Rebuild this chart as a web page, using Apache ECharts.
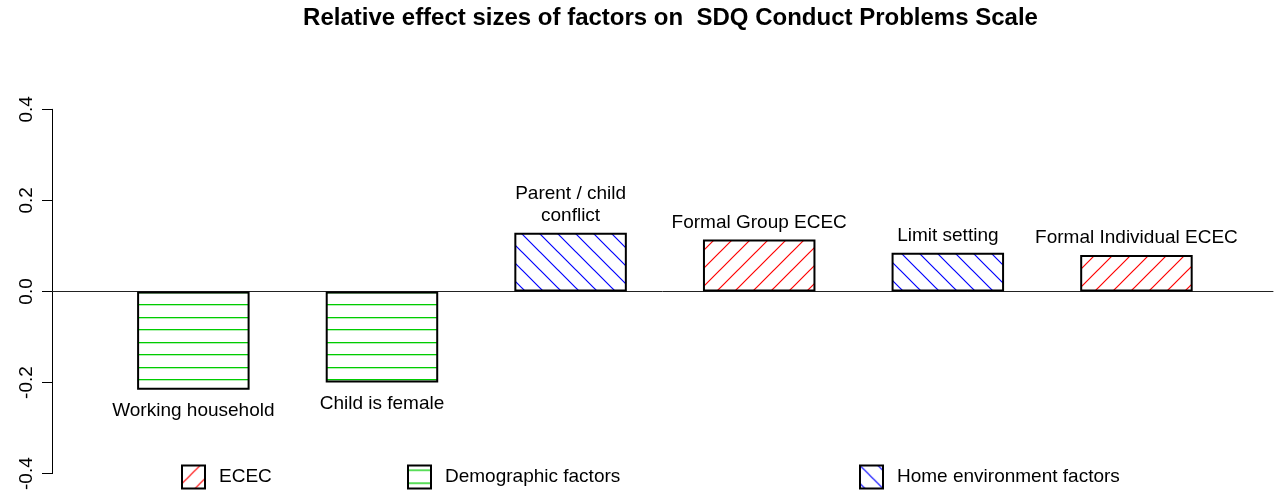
<!DOCTYPE html>
<html><head><meta charset="utf-8">
<script src="https://cdn.jsdelivr.net/npm/echarts@6/dist/echarts.min.js"></script>
<style>html,body{margin:0;padding:0;background:#fff}#c{width:1275px;height:493px}</style>
</head><body><div id="c"></div>
<script>
// ---- data ----
const categories = ['Working household', 'Child is female', 'Parent / child\nconflict', 'Formal Group ECEC', 'Limit setting', 'Formal Individual ECEC'];
const values = [-0.216, -0.200, 0.129, 0.114, 0.085, 0.080];
const groups = ['Demographic factors', 'Demographic factors', 'Home environment factors', 'ECEC', 'Home environment factors', 'ECEC'];
const groupNames = ['ECEC', 'Demographic factors', 'Home environment factors'];
const yTickLabels = ['-0.4', '-0.2', '0.0', '0.2', '0.4'];

// ---- styles ----
const FONT = '"Liberation Sans", Arial, Helvetica, sans-serif';
function hatch(kind, color) {
  const c = document.createElement('canvas');
  const ctx = c.getContext('2d');
  if (kind === 'h') {
    c.width = 4; c.height = 25;
    ctx.fillStyle = '#fff'; ctx.fillRect(0, 0, 4, 25);
    ctx.fillStyle = color;
    ctx.fillRect(0, 4, 4, 1.3);
    ctx.fillRect(0, 17, 4, 1.3);
  } else {
    const s = 18;
    c.width = s; c.height = s;
    ctx.fillStyle = '#fff'; ctx.fillRect(0, 0, s, s);
    ctx.strokeStyle = color; ctx.lineWidth = 1.2;
    ctx.beginPath();
    if (kind === '/') {
      ctx.moveTo(-2, s + 2); ctx.lineTo(s + 2, -2);
      ctx.moveTo(-2, 2); ctx.lineTo(2, -2);
      ctx.moveTo(s - 2, s + 2); ctx.lineTo(s + 2, s - 2);
    } else {
      ctx.moveTo(-2, -2); ctx.lineTo(s + 2, s + 2);
      ctx.moveTo(s - 2, -2); ctx.lineTo(s + 2, 2);
      ctx.moveTo(-2, s - 2); ctx.lineTo(2, s + 2);
    }
    ctx.stroke();
  }
  return { image: c, repeat: 'repeat' };
}
const groupFill = {
  'ECEC': hatch('/', '#ff0000'),
  'Demographic factors': hatch('h', '#00cc00'),
  'Home environment factors': hatch('\\', '#0000ff')
};

const series = groupNames.map(g => ({
  name: g,
  type: 'bar',
  barWidth: 112.5,
  barGap: '-100%',
  itemStyle: { color: groupFill[g], borderColor: '#000', borderWidth: 2 },
  label: {
    show: true,
    formatter: p => categories[p.data.idx],
    fontFamily: FONT, fontSize: 19, color: '#000', lineHeight: 22
  },
  data: categories.map((c, i) => i).filter(i => groups[i] === g).map(i => ({
    idx: i,
    value: [i + 1, values[i]],
    label: values[i] >= 0 ? { position: 'top', distance: 6 } : { position: 'bottom', distance: 10 }
  }))
}));

const legendLefts = [181, 407, 859];
const legends = groupNames.map((g, k) => ({
  data: [g],
  left: legendLefts[k], top: 464.5,
  padding: 0,
  icon: 'rect',
  itemWidth: 23, itemHeight: 23,
  selectedMode: false,
  textStyle: { fontFamily: FONT, fontSize: 19, color: '#000', padding: [0, 0, 0, 9] }
}));

const chart = echarts.init(document.getElementById('c'), null, { renderer: 'canvas' });
chart.setOption({
  animation: false,
  backgroundColor: '#fff',
  title: {
    text: 'Relative effect sizes of factors on  SDQ Conduct Problems Scale',
    left: 665.5, top: 1, textAlign: 'center',
    textStyle: { fontFamily: FONT, fontSize: 24, fontWeight: 'bold', color: '#000' }
  },
  legend: legends,
  grid: { left: 52, right: 2, top: 109.3, bottom: 17.3, containLabel: false },
  xAxis: {
    type: 'value', min: 0.2506, max: 6.724,
    axisLine: { show: true, onZero: true, lineStyle: { color: '#222', width: 1 } },
    axisTick: { show: false }, axisLabel: { show: false }, splitLine: { show: false }
  },
  yAxis: {
    type: 'value', min: -0.4, max: 0.4, interval: 0.2,
    axisLine: { show: true, lineStyle: { color: '#000', width: 1 } },
    axisTick: { show: true, length: 10, lineStyle: { color: '#000' } },
    axisLabel: {
      rotate: 90, margin: 16, fontFamily: FONT, fontSize: 19, color: '#000',
      formatter: v => yTickLabels[Math.round((v + 0.4) / 0.2)]
    },
    splitLine: { show: false }
  },
  series: series
});
</script>
</body></html>
